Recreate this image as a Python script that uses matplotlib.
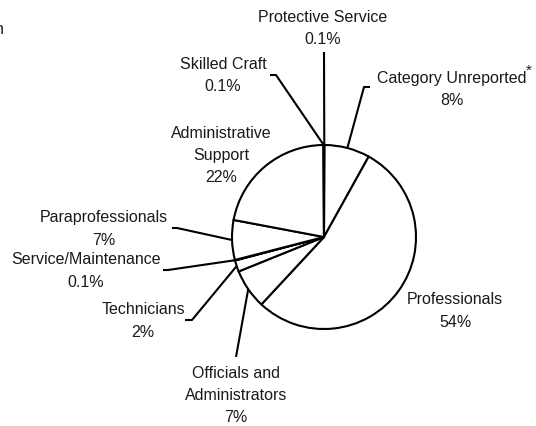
import matplotlib.pyplot as plt
import numpy as np

plt.rcParams['font.family'] = ['Liberation Sans', 'DejaVu Sans']

# data, clockwise from 12 o'clock
categories = ['Protective Service', 'Category Unreported', 'Professionals',
              'Officials and\nAdministrators', 'Technicians', 'Service/Maintenance',
              'Paraprofessionals', 'Administrative\nSupport', 'Skilled Craft']
shares = [0.1, 8, 54, 7, 2, 0.1, 7, 22, 0.1]
pct_labels = ['0.1%', '8%', '54%', '7%', '2%', '0.1%', '7%', '22%', '0.1%']

W, H = 536, 426
fig = plt.figure(figsize=(W / 100, H / 100), dpi=100)
ax = fig.add_axes([0, 0, 1, 1])


def Y(y):
    # picture rows -> data y
    return H - y


cx, cy, r = 324, Y(237), 92
wedges, _ = ax.pie(shares, startangle=90, counterclock=False, radius=r,
                   center=(cx, cy),
                   wedgeprops=dict(facecolor='white', edgecolor='black', linewidth=1.5))
ax.set_xlim(0, W)
ax.set_ylim(0, H)
ax.set_aspect('equal')
ax.axis('off')


def edge_point(w):
    a = np.deg2rad((w.theta1 + w.theta2) / 2)
    return cx + r * np.cos(a), cy + r * np.sin(a)


# label centre (x, y) in picture px, elbow point(s) of the leader line or None
layout = {
    'Protective Service': ((323, 28.5), [(324, 52)]),
    'Category Unreported': ((452, 89.5), [(370, 87), (364, 87)]),
    'Professionals': ((455, 311), None),
    'Officials and\nAdministrators': ((236, 395.5), [(236, 357)]),
    'Technicians': ((143, 321), [(185, 320), (192, 320)]),
    'Service/Maintenance': ((86, 271), [(163, 270), (168, 270)]),
    'Paraprofessionals': ((104, 229), [(172, 228), (177, 228)]),
    'Administrative\nSupport': ((221, 155.5), None),
    'Skilled Craft': ((223, 75.5), [(270, 75), (276, 75)]),
}

for w, cat, pct in zip(wedges, categories, pct_labels):
    (tx, ty), elbow = layout[cat]
    ax.text(tx, Y(ty), cat + '\n' + pct, ha='center', va='center',
            fontsize=11.5, linespacing=1.6, color='#1a1a1a')
    if elbow:
        ex, ey = edge_point(w)
        xs = [p[0] for p in elbow] + [ex]
        ys = [Y(p[1]) for p in elbow] + [ey]
        ax.plot(xs, ys, color='black', lw=1.5, solid_capstyle='butt')

ax.text(529, Y(71), '*', ha='center', va='center', fontsize=11, color='#1a1a1a')
ax.text(3.5, Y(30), 'n', ha='right', va='center', fontsize=11.5, color='#1a1a1a')

fig.savefig('out.png', dpi=100)
